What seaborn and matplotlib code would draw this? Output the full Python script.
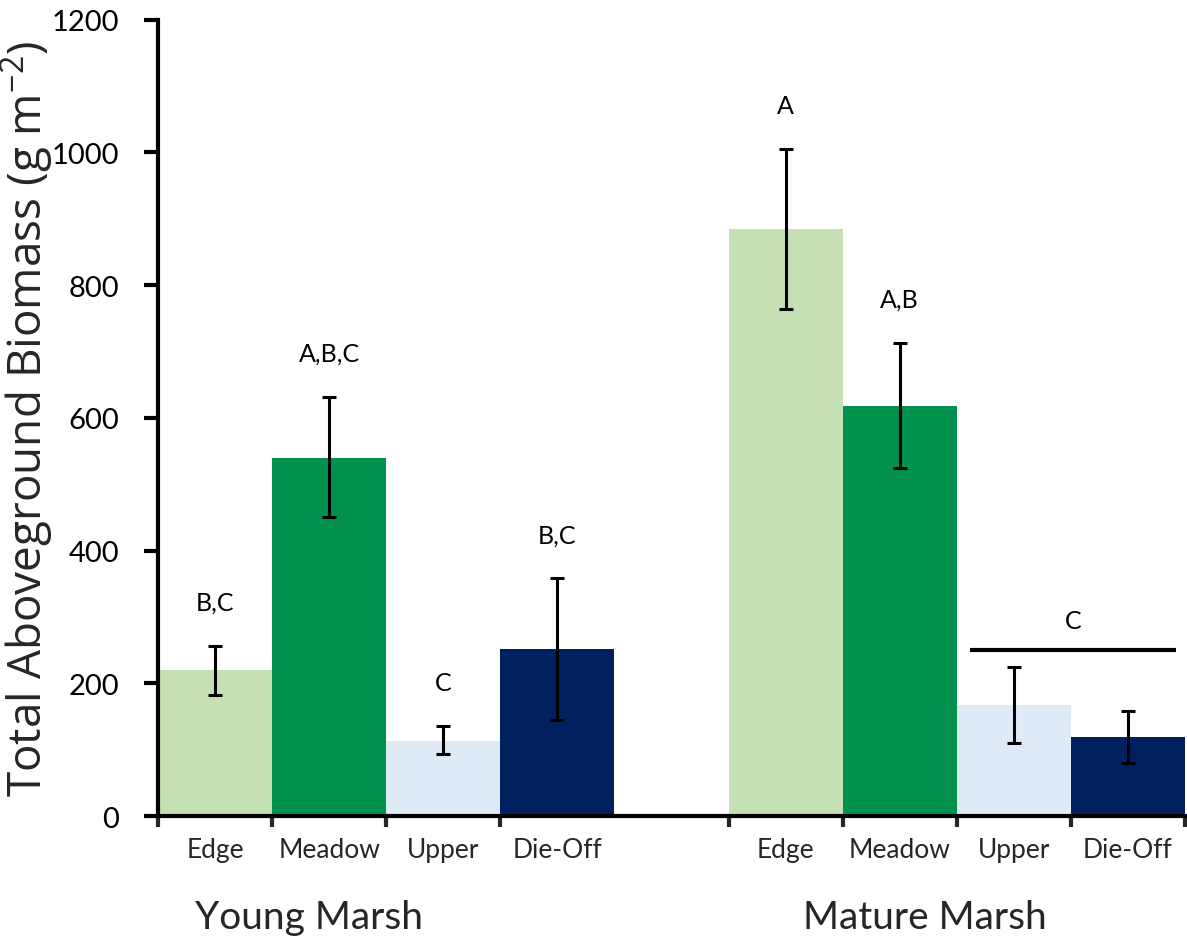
import matplotlib
matplotlib.use("Agg")
import matplotlib.pyplot as plt
import seaborn as sns
import pandas as pd
import numpy as np

# ---- data ----
habitats = ["Edge", "Meadow", "Upper", "Die-Off"]
marshes = ["Young Marsh", "Mature Marsh"]
young_mean = [220, 540, 113, 251]
young_lower = [183, 450, 93, 144]
young_upper = [257, 632, 135, 358]
mature_mean = [884, 618, 167, 119]
mature_lower = [764, 525, 110, 80]
mature_upper = [1005, 713, 225, 159]
young_letters = ["B,C", "A,B,C", "C", "B,C"]
mature_letters = ["A", "A,B", "", ""]
mature_group_letter = "C"
colors = ["#C5E0B4", "#00914F", "#DEEBF7", "#002060"]

# ---- build table ----
slots = [f"Y-{h}" for h in habitats] + ["gap"] + [f"M-{h}" for h in habitats]
df = pd.DataFrame({
    "slot": [f"Y-{h}" for h in habitats] + [f"M-{h}" for h in habitats],
    "habitat": habitats * 2,
    "marsh": [marshes[0]] * 4 + [marshes[1]] * 4,
    "mean": young_mean + mature_mean,
    "lower": young_lower + mature_lower,
    "upper": young_upper + mature_upper,
    "letter": young_letters + mature_letters,
})
df["pos"] = [slots.index(s) for s in df["slot"]]

sns.set_theme(style="white")
plt.rcParams["font.family"] = ["Lato", "DejaVu Sans"]
plt.rcParams["mathtext.fontset"] = "custom"
plt.rcParams["mathtext.rm"] = "Open Sans"

fig = plt.figure(figsize=(11.87, 9.45), dpi=100)
ax = fig.add_axes([0.1331, 0.1354, 0.8652, 0.8426])

sns.barplot(data=df, x="slot", y="mean", hue="habitat", order=slots,
            hue_order=habitats, palette=dict(zip(habitats, colors)),
            dodge=False, width=1.0, linewidth=0, errorbar=None,
            saturation=1, legend=False, ax=ax)

# error bars
ax.errorbar(df["pos"], df["mean"],
            yerr=[df["mean"] - df["lower"], df["upper"] - df["mean"]],
            fmt="none", ecolor="black", elinewidth=2.2, capsize=5,
            capthick=2.2, zorder=5)

# significance letters
for _, r in df.iterrows():
    if r["letter"]:
        ax.text(r["pos"], r["upper"] + 66, r["letter"], ha="center",
                va="center", fontsize=18, color="black")

# group letter for mature upper/die-off
m_up = df[(df["marsh"] == marshes[1]) & (df["habitat"].isin(["Upper", "Die-Off"]))]
x0, x1 = m_up["pos"].min() - 0.38, m_up["pos"].max() + 0.42
ax.plot([x0, x1], [250, 250], color="black", lw=3, solid_capstyle="butt")
ax.text((x0 + x1) / 2, 294, mature_group_letter, ha="center", va="center",
        fontsize=18, color="black")

# axes styling
ax.set_xlim(-0.5, 8.5)
ax.set_ylim(0, 1200)
ax.set_yticks(np.arange(0, 1201, 200))
ax.tick_params(axis="y", labelsize=21, direction="out", length=10, width=3,
               pad=18, colors="black", left=True)
ax.set_xticks([-0.5, 0.5, 1.5, 2.5, 4.5, 5.5, 6.5, 7.5, 8.5])
ax.set_xticklabels([])
ax.tick_params(axis="x", direction="out", length=8, width=3, bottom=True)
for s in ["top", "right"]:
    ax.spines[s].set_visible(False)
for s in ["left", "bottom"]:
    ax.spines[s].set_linewidth(3)
    ax.spines[s].set_color("black")
ax.set_xlabel("")
ax.set_ylabel("Total Aboveground Biomass (g m$^{-2}$)", fontsize=33,
              family=["Open Sans", "DejaVu Sans"])
ax.yaxis.set_label_coords(-0.100, 0.5)

# category labels
for _, r in df.iterrows():
    ax.text(r["pos"], -50, r["habitat"], ha="center", va="center",
            fontsize=19, transform=ax.transData, clip_on=False)

# group labels
ax.text(0.82, -152, marshes[0], ha="center", va="center", fontsize=28,
        clip_on=False)
ax.text(6.22, -152, marshes[1], ha="center", va="center", fontsize=28,
        clip_on=False)

fig.savefig("out.png", dpi=100)
